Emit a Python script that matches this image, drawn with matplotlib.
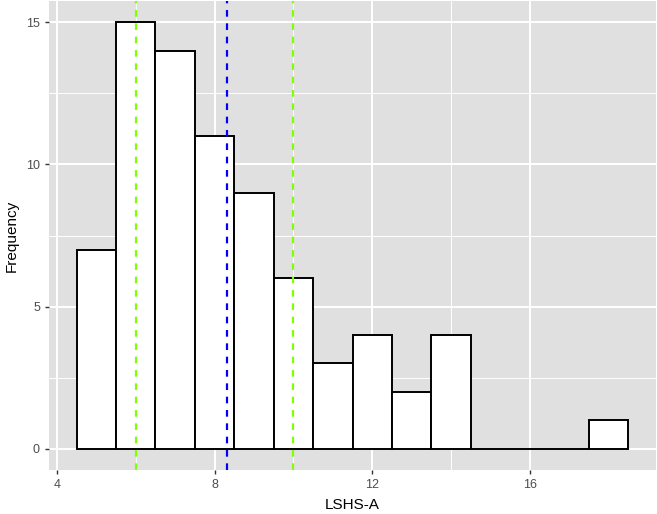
import numpy as np
import matplotlib
matplotlib.use("Agg")
import matplotlib.pyplot as plt

# histogram of LSHS-A scores (bin width 1, centered on integers)
bin_centers = [5, 6, 7, 8, 9, 10, 11, 12, 13, 14, 15, 16, 17, 18]
counts = [7, 15, 14, 11, 9, 6, 3, 4, 2, 4, 0, 0, 0, 1]

# reference lines
green_lines = [6.0, 10.0]
blue_line = 8.31

x_ticks = [4, 8, 12, 16]
y_ticks = [0, 5, 10, 15]

plt.rcParams['font.family'] = ['Liberation Sans', 'DejaVu Sans']

fig = plt.figure(figsize=(6.57, 5.14), dpi=100)
ax = fig.add_axes([49/657, 44/514, 607/657, 469/514])

ax.set_facecolor('#EBEBEB')
ax.set_facecolor('#E0E0E0')
for s in ax.spines.values():
    s.set_visible(False)

# grid like ggplot
for v in [6, 10, 14]:
    ax.axvline(v, color='white', lw=0.7, zorder=0)
for v in [2.5, 7.5, 12.5]:
    ax.axhline(v, color='white', lw=0.7, zorder=0)
for v in x_ticks:
    ax.axvline(v, color='white', lw=1.4, zorder=0)
for v in y_ticks:
    ax.axhline(v, color='white', lw=1.4, zorder=0)

ax.bar(bin_centers, counts, width=1.0, color='white', edgecolor='black',
       linewidth=1.4, zorder=2)

for g in green_lines:
    ax.axvline(g, color='#7FFF00', lw=1.6, ls=(0, (3, 3)), zorder=3)
ax.axvline(blue_line, color='#0000FF', lw=1.6, ls=(0, (3, 3)), zorder=3)

ax.set_xlim(3.8, 19.2)
ax.set_ylim(-0.75, 15.75)
ax.set_xticks(x_ticks)
ax.set_yticks(y_ticks)
ax.tick_params(axis='both', colors='#333333', labelcolor='#4D4D4D',
               labelsize=9, length=3, width=1)

ax.set_xlabel('LSHS-A', fontsize=11, color='black', labelpad=5)
ax.set_ylabel('Frequency', fontsize=11, color='black', labelpad=5)

fig.savefig('out.png', dpi=100)
